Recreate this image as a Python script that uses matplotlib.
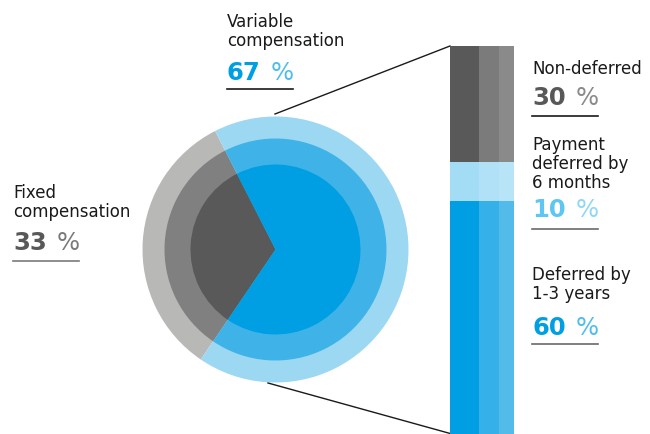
import matplotlib.pyplot as plt
import numpy as np

# pie: fixed vs variable compensation
pie_labels = ['Fixed\ncompensation', 'Variable\ncompensation']
pie_values = [33, 67]

# deferral breakdown of variable compensation (top to bottom)
bar_labels = ['Non-deferred', 'Payment\ndeferred by\n6 months', 'Deferred by\n1-3 years']
bar_values = [30, 10, 60]

# ring colours (outer, middle, inner) for gray / blue
gray_rings = ['#b8b8b7', '#808080', '#595959']
blue_rings = ['#9dd8f3', '#3fb3e8', '#009fe3']
ring_radii = [133, 111, 85]

# bar column colours, one list per segment, three columns each
bar_colors = [
  ['#595959', '#7b7b7b', '#8a8a8a'],
  ['#a3dcf5', '#b0e1f6', '#b8e4f7'],
  ['#009fe3', '#35b0e8', '#52bbea'],
]
col_widths = [29, 20, 15]

W, H = 650, 434
fig = plt.figure(figsize=(6.5, 4.34), dpi=100)
ax = fig.add_axes([0, 0, 1, 1])

center = (275.5, H - 249.5)
for r, g, b in zip(ring_radii, gray_rings, blue_rings):
  ax.pie(pie_values, colors=[g, b], radius=r, center=center,
         startangle=117, counterclock=True,
         wedgeprops=dict(linewidth=0))

ax.set_xlim(0, W)
ax.set_ylim(0, H)
ax.set_aspect('equal')
ax.axis('off')

# stacked bar in its own axes (pixel box x 450..514, y 46..434)
bax = fig.add_axes([450 / W, 0, 64 / W, (H - 46) / H])
lefts = np.cumsum([0] + col_widths[:-1])
bottom = 0
for val, cols in zip(bar_values, bar_colors):
  bax.bar(lefts, val, width=col_widths, bottom=bottom, color=cols,
          align='edge', linewidth=0)
  bottom += val
bax.set_xlim(0, sum(col_widths))
bax.set_ylim(100, 0)
bax.axis('off')

# connector lines
ax.plot([275, 450], [H - 114, H - 46], color='#1a1a1a', lw=1)
ax.plot([268, 452], [H - 383, H - 434], color='#1a1a1a', lw=1)

def y(v):
  return H - v

def label_block(x, ytop, text):
  ax.text(x, y(ytop), text, fontsize=12, color='#1a1a1a', va='top',
          ha='left', linespacing=1.07)

def value_block(x, ytop, value, c_num, c_pct, line_y, line_c):
  t = ax.text(x, y(ytop), str(value), fontsize=17.5, fontweight='bold',
              color=c_num, va='top', ha='left')
  ax.annotate('%', xy=(1, 0), xycoords=t, xytext=(10, 0),
              textcoords='offset pixels', fontsize=17.5, color=c_pct,
              va='bottom', ha='left')
  ax.plot([x, x + 66], [y(line_y), y(line_y)], color=line_c, lw=1.2)

label_block(227, 13, pie_labels[1])
value_block(227, 61, pie_values[1], '#009fe3', '#4fbdec', 89, '#1a1a1a')

label_block(13, 184, pie_labels[0])
value_block(13, 231, pie_values[0], '#58585a', '#7a7a7a', 261, '#7a7a7a')

label_block(532, 60, bar_labels[0])
value_block(532, 86, bar_values[0], '#58585a', '#8a8a8a', 116, '#1a1a1a')

label_block(532, 136, bar_labels[1])
value_block(532, 198, bar_values[1], '#5ec6f2', '#8fd7f6', 229, '#6a6a6a')

label_block(532, 266, bar_labels[2])
value_block(532, 316, bar_values[2], '#009fe3', '#4fbdec', 344, '#6a6a6a')

fig.savefig('out.png', dpi=100)
